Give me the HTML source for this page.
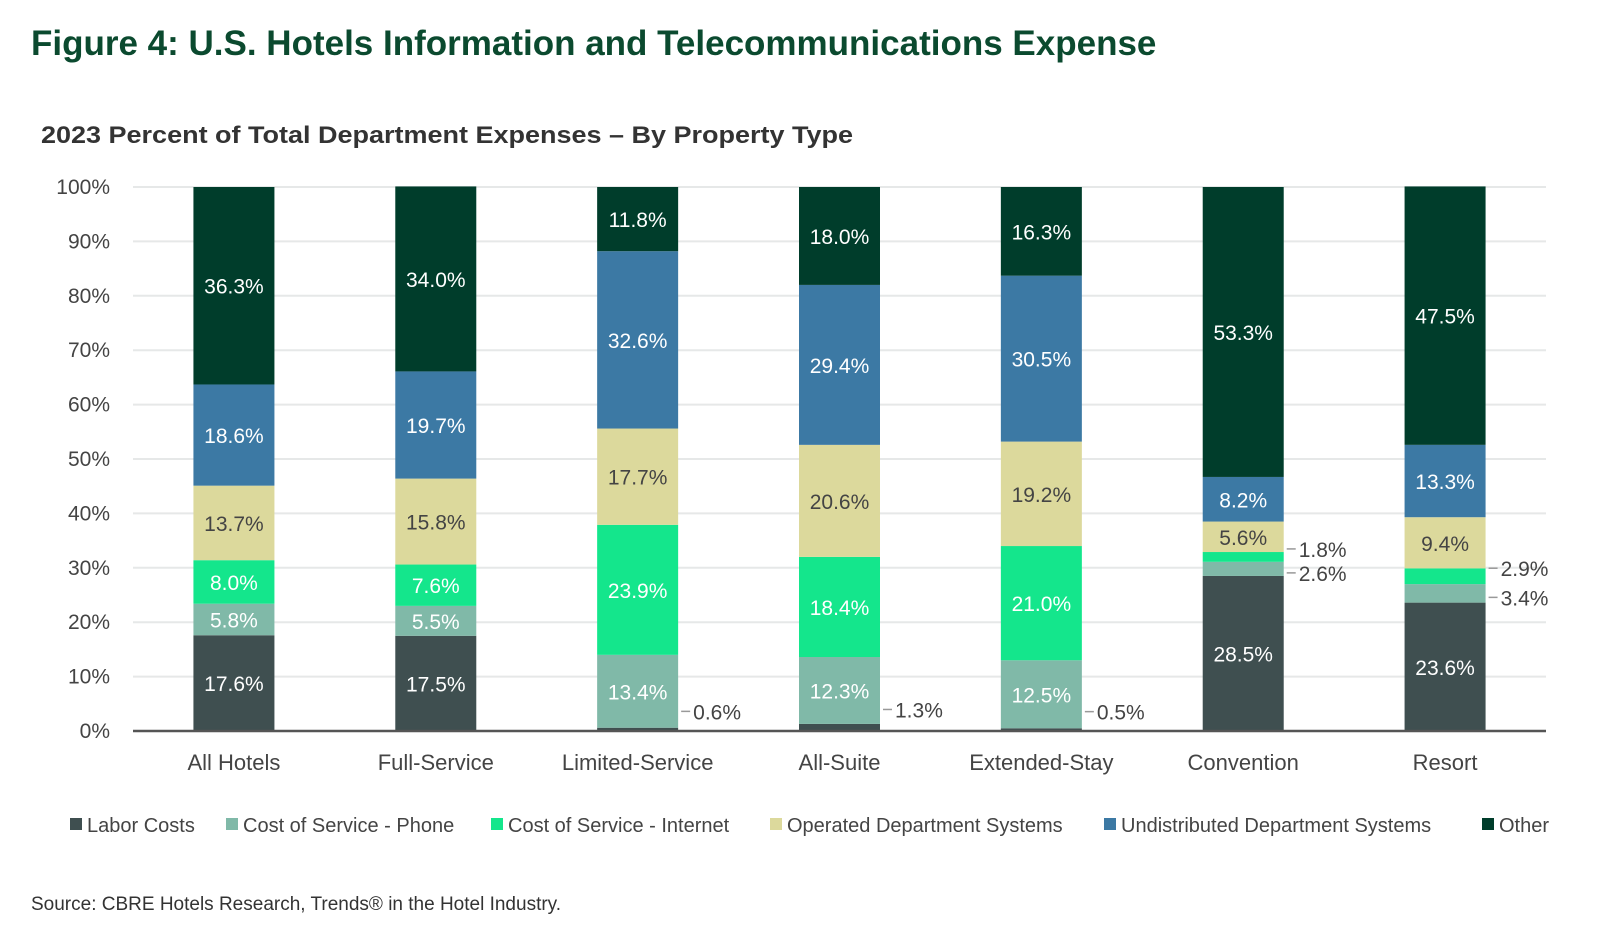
<!DOCTYPE html>
<html><head><meta charset="utf-8">
<style>
html,body{margin:0;padding:0;background:#fff;width:1622px;height:930px;overflow:hidden}
svg{display:block}
</style></head>
<body>
<svg id="chart" width="1622" height="930" viewBox="0 0 1622 930" xmlns="http://www.w3.org/2000/svg">
<text x="31" y="55" font-family="Liberation Sans, sans-serif" font-weight="bold" font-size="35" fill="#0b4a2f">Figure 4: U.S. Hotels Information and Telecommunications Expense</text>
<text x="41" y="143" font-family="Liberation Sans, sans-serif" font-weight="bold" font-size="24" fill="#333" textLength="812" lengthAdjust="spacingAndGlyphs">2023 Percent of Total Department Expenses – By Property Type</text>
<g id="grid"></g>
<g id="yticks"></g>
<g id="bars"></g>
<g id="xticks"></g>
<g id="legend"></g>
<text x="31" y="910" font-family="Liberation Sans, sans-serif" font-size="19" fill="#333">Source: CBRE Hotels Research, Trends® in the Hotel Industry.</text>
</svg>
<script>
const categories = ["All Hotels","Full-Service","Limited-Service","All-Suite","Extended-Stay","Convention","Resort"];
const seriesNames = ["Labor Costs","Cost of Service - Phone","Cost of Service - Internet","Operated Department Systems","Undistributed Department Systems","Other"];
const laborCosts = [17.6,17.5,0.6,1.3,0.5,28.5,23.6];
const phoneCosts = [5.8,5.5,13.4,12.3,12.5,2.6,3.4];
const internetCosts = [8.0,7.6,23.9,18.4,21.0,1.8,2.9];
const operatedSystems = [13.7,15.8,17.7,20.6,19.2,5.6,9.4];
const undistributedSystems = [18.6,19.7,32.6,29.4,30.5,8.2,13.3];
const otherCosts = [36.3,34.0,11.8,18.0,16.3,53.3,47.5];
const yTicks = [0,10,20,30,40,50,60,70,80,90,100];

const series = [laborCosts,phoneCosts,internetCosts,operatedSystems,undistributedSystems,otherCosts];
const colors = ["#3f4f50","#80b9a8","#14e68c","#dcd99c","#3c79a4","#003d2b"];
const textColors = ["#fff","#fff","#fff","#444","#fff","#fff"];
const NS = "http://www.w3.org/2000/svg";
const X0 = 133, X1 = 1546, Y0 = 731, Y1 = 187;
const band = (X1 - X0) / categories.length;
const barW = 81;
function yScale(v){ return Y0 - (v/100)*(Y0-Y1); }
function xCenter(i){ return X0 + band*(i+0.5); }
function mk(tag, attrs, parent){ const e=document.createElementNS(NS,tag); for(const k in attrs) e.setAttribute(k,attrs[k]); parent.appendChild(e); return e; }
const LBL = "Liberation Sans Narrow, Liberation Sans, sans-serif";

const grid = document.getElementById('grid'), yt = document.getElementById('yticks');
yTicks.forEach(t=>{
  const y=yScale(t);
  if(t>0){ const l=mk('line',{x1:X0,x2:X1,y1:y,y2:y,stroke:'#e6e8e8','stroke-width':2},grid);
      }
  const tx=mk('text',{x:110,y:y+7,'text-anchor':'end','font-family':'Liberation Sans, sans-serif','font-size':21,fill:'#444'},yt);
  tx.textContent=t+'%';
   
});

const bars = document.getElementById('bars');
categories.forEach((c,i)=>{
  let cum=0; const cx=xCenter(i);
  const outside=[];
  series.forEach((s,k)=>{
    const v=s[i]; const yTop=yScale(cum+v), yBot=yScale(cum);
    const r=mk('rect',{x:cx-barW/2,y:yTop,width:barW,height:yBot-yTop,fill:colors[k]},bars);
     
    if(v>=4){
      const t=mk('text',{x:cx,y:(yTop+yBot)/2+8,'text-anchor':'middle','font-family':LBL,'font-size':21,fill:textColors[k]},bars);
      t.textContent=v.toFixed(1)+'%';
       
    } else outside.push({v,ym:(yTop+yBot)/2});
    cum+=v;
  });
  outside.sort((a,b)=>a.ym-b.ym);
  outside.forEach((o,j)=>{
    let ly=o.ym;
    if(outside.length===2) ly = o.ym + (j===0?-8:4);
    else ly = Math.min(o.ym, Y0) - 18;
    const lx=cx+barW/2;
    const ln=mk('line',{x1:lx+3,x2:lx+12,y1:ly,y2:ly,stroke:'#999','stroke-width':1.5},bars);
     
    const t=mk('text',{x:lx+15,y:ly+8,'font-family':LBL,'font-size':21,fill:'#444'},bars);
    t.textContent=o.v.toFixed(1)+'%';
     
  });
});
const ax=mk('line',{x1:X0,x2:X1,y1:Y0,y2:Y0,stroke:'#555','stroke-width':2.5},bars);
 

const xt=document.getElementById('xticks');
categories.forEach((c,i)=>{
  const t=mk('text',{x:xCenter(i),y:770,'text-anchor':'middle','font-family':'Liberation Sans, sans-serif','font-size':22,fill:'#444'},xt);
  t.textContent=c;
   
});

const lg=document.getElementById('legend');
const legX=[70,226,491,770,1104,1482];
seriesNames.forEach((n,k)=>{
  const g=mk('g',{},lg);
   
  mk('rect',{x:legX[k],y:818,width:12,height:12,fill:colors[k]},g);
  const t=mk('text',{x:legX[k]+17,y:832,'font-family':'Liberation Sans, sans-serif','font-size':20,fill:'#444'},g);
  t.textContent=n;
});
</script>
</body></html>
